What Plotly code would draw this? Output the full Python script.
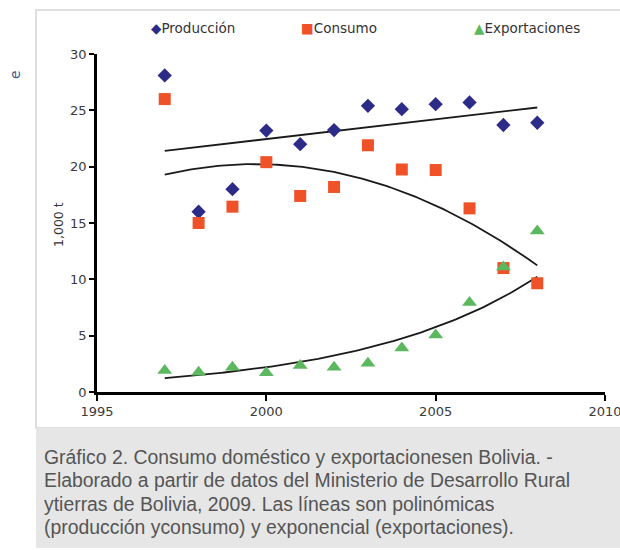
import numpy as np
import plotly.graph_objects as go

years = [1997, 1998, 1999, 2000, 2001, 2002, 2003, 2004, 2005, 2006, 2007, 2008]
produccion = [28.1, 16.0, 18.0, 23.2, 22.0, 23.25, 25.4, 25.1, 25.55, 25.7, 23.7, 23.9]
consumo = [26.0, 15.0, 16.45, 20.4, 17.4, 18.2, 21.9, 19.75, 19.7, 16.3, 11.0, 9.65]
exportaciones = [1.9, 1.75, 2.2, 1.7, 2.35, 2.2, 2.55, 3.9, 5.05, 7.95, 11.1, 14.3]

x_ticks = [1995, 2000, 2005, 2010]
y_ticks = [0, 5, 10, 15, 20, 25, 30]

caption_lines = [
    "Gráfico 2. Consumo doméstico y exportacionesen Bolivia. -",
    "Elaborado a partir de datos del Ministerio de Desarrollo Rural",
    "ytierras de Bolivia, 2009. Las líneas son polinómicas",
    "(producción yconsumo) y exponencial (exportaciones).",
]

C_PROD = "#2c2b87"
C_CONS = "#ef5128"
C_EXP = "#5cb85e"

# trendlines fitted from the data
yr = np.array(years, dtype=float)
xs = np.linspace(yr.min(), yr.max(), 120)
p_prod = np.polyfit(yr - 2002.5, produccion, 1)
p_cons = np.polyfit(yr - 2002.5, consumo, 2)
p_exp = np.polyfit(yr - 2002.5, np.log(exportaciones), 1)
trend_prod = np.polyval(p_prod, xs - 2002.5)
trend_cons = np.polyval(p_cons, xs - 2002.5)
trend_exp = np.exp(np.polyval(p_exp, xs - 2002.5))

W, H = 620, 550
L, R, T, B = 97, 15, 54, 158
PW, PH = W - L - R, H - T - B


def px(x):
    return (x - L) / PW


def py(y):
    return (H - B - y) / PH


fig = go.Figure()
for tr in (trend_prod, trend_cons, trend_exp):
    fig.add_trace(go.Scatter(x=xs, y=tr, mode="lines",
                             line=dict(color="#1a1a1a", width=1.8),
                             showlegend=False, hoverinfo="skip"))

fig.add_trace(go.Scatter(x=years, y=produccion, mode="markers", name="Producción",
                         marker=dict(symbol="diamond", size=11, color=C_PROD),
                         cliponaxis=False, showlegend=False))
fig.add_trace(go.Scatter(x=years, y=consumo, mode="markers", name="Consumo",
                         marker=dict(symbol="square", size=12, color=C_CONS),
                         cliponaxis=False, showlegend=False))
fig.add_trace(go.Scatter(x=years, y=exportaciones, mode="markers", name="Exportaciones",
                         marker=dict(symbol="triangle-up", size=13, color=C_EXP),
                         cliponaxis=False, showlegend=False))

tickfont = dict(family="DejaVu Sans", size=13, color="#3a3a3a")
fig.update_xaxes(range=[1995, 2010], tickvals=x_ticks, showline=True, linecolor="black",
                 linewidth=2.5, ticks="outside", ticklen=6, tickwidth=2, tickcolor="black",
                 showgrid=False, zeroline=False, tickfont=tickfont, automargin=False,
                 ticklabeloverflow="allow")
fig.update_yaxes(range=[0, 30], tickvals=y_ticks, showline=True, linecolor="black",
                 linewidth=2.5, ticks="outside", ticklen=5, tickwidth=2, tickcolor="black",
                 showgrid=False, zeroline=False, tickfont=tickfont, automargin=False)

shapes = [
    dict(type="rect", xref="paper", yref="paper", x0=px(36), x1=px(640), y0=py(428), y1=py(10),
         line=dict(color="#dedede", width=2), fillcolor="rgba(0,0,0,0)", layer="below"),
    dict(type="rect", xref="paper", yref="paper", x0=px(36), x1=px(640), y0=py(548), y1=py(428),
         line=dict(width=0), fillcolor="#e6e6e6", layer="below"),
]

legend_font = dict(family="DejaVu Sans", size=13.5, color="#333333")
annotations = [
    dict(text=f"<span style='color:{C_PROD}'>◆</span>Producción", x=px(149), y=py(28)),
    dict(text=f"<span style='color:{C_CONS}'>■</span>Consumo", x=px(299), y=py(28)),
    dict(text=f"<span style='color:{C_EXP}'>▲</span>Exportaciones", x=px(472), y=py(28)),
]
annotations = [dict(a, xref="paper", yref="paper", xanchor="left", yanchor="middle",
                    showarrow=False, font=legend_font) for a in annotations]
annotations.append(dict(text="1,000 t", x=px(58), y=py(225), xref="paper", yref="paper",
                        textangle=-90, showarrow=False, xanchor="center", yanchor="middle",
                        font=dict(family="DejaVu Sans", size=12.5, color="#333333")))
annotations.append(dict(text="e", x=px(15), y=py(75), xref="paper", yref="paper",
                        textangle=-90, showarrow=False, xanchor="center", yanchor="middle",
                        font=dict(family="DejaVu Sans", size=14, color="#3b5a8c")))
for i, line in enumerate(caption_lines):
    annotations.append(dict(text=line, x=px(42), y=py(457 + i * 23.3), xref="paper",
                            yref="paper", showarrow=False, xanchor="left", yanchor="middle",
                            align="left",
                            font=dict(family="Liberation Sans", size=19.4, color="#555555")))

fig.update_layout(width=W, height=H, margin=dict(l=L, r=R, t=T, b=B, autoexpand=False),
                  paper_bgcolor="white", plot_bgcolor="rgba(0,0,0,0)",
                  shapes=shapes, annotations=annotations, showlegend=False)

fig.write_html("out.html", config={"displayModeBar": False},
               post_script="document.body.style.margin='0';")
